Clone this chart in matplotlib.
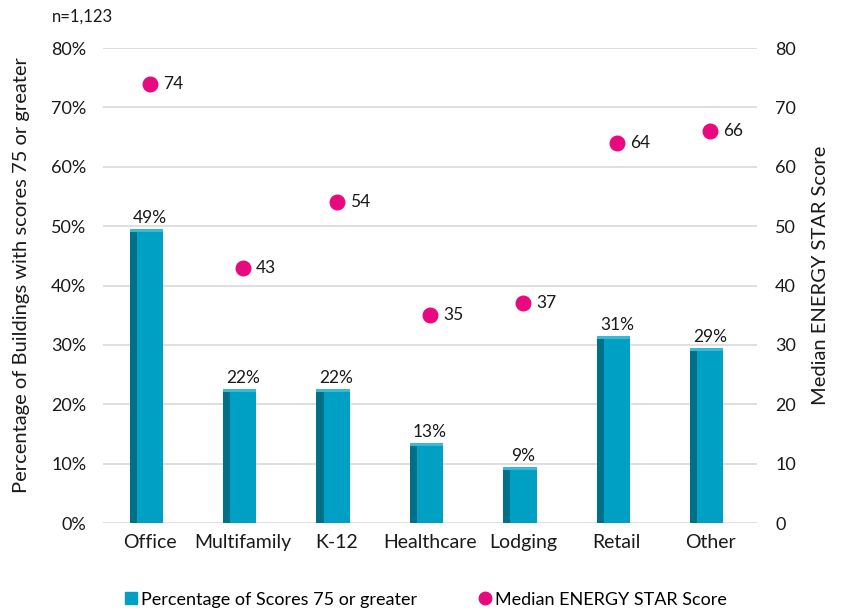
import matplotlib
matplotlib.use("Agg")
import matplotlib.pyplot as plt
import numpy as np
from matplotlib.lines import Line2D

plt.rcParams['font.family'] = ['Lato', 'DejaVu Sans']

categories = ["Office", "Multifamily", "K-12", "Healthcare", "Lodging", "Retail", "Other"]
pct_75 = [49, 22, 22, 13, 9, 31, 29]
median_score = [74, 43, 54, 35, 37, 64, 66]
left_ticks = [0, 10, 20, 30, 40, 50, 60, 70, 80]
right_ticks = [0, 10, 20, 30, 40, 50, 60, 70, 80]

front_c = "#00a0c4"
side_c = "#006f88"
top_c = "#3ab9d6"
dot_c = "#e8097f"
grid_c = "#d9d9d9"
txt_c = "#1a1a1a"

fig = plt.figure(figsize=(8.43, 6.10), dpi=100)
ax = fig.add_axes([0.1222, 0.1426, 0.7758, 0.7787])
ax2 = ax.twinx()

x = np.arange(len(categories))
w = 0.28
sw = 0.075
ax.bar(x - w / 2 - sw / 2, pct_75, width=sw, color=side_c, zorder=2)
ax.bar(x, pct_75, width=w, color=front_c, zorder=3)
ax.bar(x - sw / 2, [0.5] * len(x), bottom=pct_75, width=w + sw, color=top_c, zorder=3)

for xi, v in zip(x, pct_75):
    ax.text(xi, v + 1.0, f"{v}%", ha="center", va="bottom", fontsize=12.5, color=txt_c, zorder=5)

ax.set_xlim(-0.5, len(categories) - 0.5)
ax.set_ylim(0, 80)
ax.set_yticks(left_ticks)
ax.set_yticklabels([f"{t}%" for t in left_ticks], fontsize=13)
ax.set_xticks(x)
ax.set_xticklabels(categories, fontsize=14)
ax.tick_params(axis="both", length=0, colors=txt_c)
ax.tick_params(axis="y", pad=12)
ax.tick_params(axis="x", pad=8)
ax.grid(axis="y", color=grid_c, linewidth=1.2, zorder=0)
ax.set_axisbelow(True)
for s in ax.spines.values():
    s.set_visible(False)
ax.set_ylabel("Percentage of Buildings with scores 75 or greater", fontsize=14.5, color=txt_c)
ax.yaxis.set_label_coords(-0.112, 0.522)

ax2.scatter(x, median_score, s=110, color=dot_c, zorder=6)
for xi, v in zip(x, median_score):
    ax2.text(xi + 0.14, v, f"{v}", ha="left", va="center", fontsize=12.5, color=txt_c, zorder=6)
ax2.set_ylim(0, 80)
ax2.set_yticks(right_ticks)
ax2.set_yticklabels([str(t) for t in right_ticks], fontsize=13)
ax2.tick_params(axis="y", length=0, pad=13, colors=txt_c)
for s in ax2.spines.values():
    s.set_visible(False)
ax2.set_ylabel("Median ENERGY STAR Score", fontsize=14.5, color=txt_c)
ax2.yaxis.set_label_coords(1.084, 0.522)

fig.text(0.062, 0.972, "n=1,123", fontsize=12, ha="left", va="center", color=txt_c)

h1 = Line2D([], [], marker="s", linestyle="none", markersize=8.5, color=front_c)
h2 = Line2D([], [], marker="o", linestyle="none", markersize=9, color=dot_c)
leg_kw = dict(frameon=False, fontsize=13, handletextpad=0.05, handlelength=1.0,
              borderpad=0, borderaxespad=0)
fig.legend([h1], ["Percentage of Scores 75 or greater"], loc="center left",
           bbox_to_anchor=(122 / 843, 0.017), **leg_kw)
fig.legend([h2], ["Median ENERGY STAR Score"], loc="center left",
           bbox_to_anchor=(476 / 843, 0.017), **leg_kw)

fig.savefig("out.png", dpi=100)
